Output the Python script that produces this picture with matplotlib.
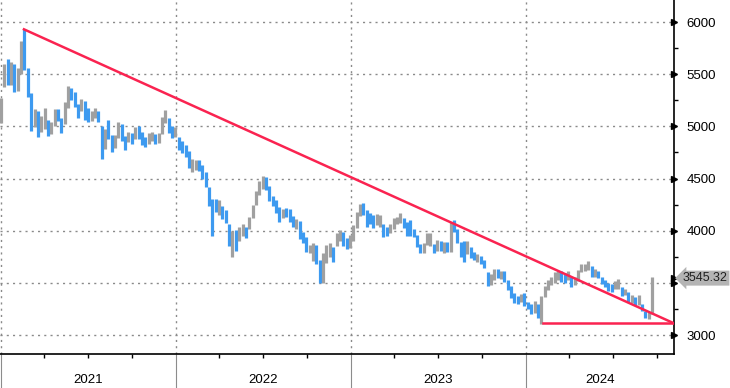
import matplotlib
matplotlib.use("Agg")
import matplotlib.pyplot as plt
import matplotlib.dates as mdates
import numpy as np
import pandas as pd

plt.rcParams['font.family'] = ['Liberation Sans', 'DejaVu Sans']

# weekly bars (week ending Friday)
weekly_low = [
    5030, 5380, 5400, 5400, 5330, 5340, 5500, 5540, 5280, 4960, 4990, 4900, 4945, 4970, 4910, 4930,
    5000, 5050, 4940, 5020, 5180, 5250, 5190, 5080, 5150, 5060, 5040, 5050, 5080, 5040, 4690, 4780,
    4880, 4750, 4790, 4890, 4860, 4770, 4850, 4830, 4880, 4880, 4820, 4800, 4830, 4860, 4830, 4840,
    4930, 5030, 4940, 4890, 4900,
    4770, 4740, 4710, 4600, 4560, 4580, 4570, 4500, 4420, 4240, 3950, 4180, 4150, 4110, 4070, 3850,
    3750, 3810, 3900, 3950, 3930, 4020, 4120, 4250, 4340, 4400, 4390, 4280, 4240, 4170, 4080, 4120,
    4130, 4080, 4040, 4020, 3920, 3880, 3800, 3790, 3710, 3680, 3500, 3500, 3690, 3750, 3700, 3850,
    3900, 3850, 3820, 3830,
    3900, 4030, 4140, 4150, 4040, 4060, 4030, 4050, 4040, 3940, 3950, 3980, 4020, 4060, 4070, 4030,
    3950, 3950, 3940, 3840, 3790, 3790, 3860, 3850, 3790, 3810, 3810, 3790, 3800, 3800, 3990, 3880,
    3750, 3700, 3780, 3740, 3720, 3700, 3680, 3640, 3470, 3480, 3530, 3550, 3540, 3510, 3430, 3350,
    3310, 3300, 3320,
    3280, 3250, 3200, 3210, 3160, 3108, 3360, 3430, 3480, 3500, 3530, 3510, 3500, 3530, 3460, 3480,
    3520, 3600, 3610, 3620, 3560, 3560, 3550, 3490, 3460, 3420, 3410, 3440, 3440, 3370, 3380, 3320,
    3310, 3290, 3290, 3230, 3160, 3150, 3200,
]
weekly_high = [
    5270, 5600, 5650, 5620, 5600, 5560, 5820, 5930, 5560, 5320, 5170, 5150, 5100, 5180, 5060, 5040,
    5170, 5170, 5080, 5230, 5390, 5370, 5330, 5210, 5260, 5240, 5180, 5150, 5180, 5150, 5000, 4970,
    5060, 4920, 4920, 5040, 5020, 4910, 4950, 4940, 4990, 5000, 4950, 4900, 4940, 4950, 4930, 4940,
    5090, 5160, 5080, 5000, 4990,
    4900, 4860, 4820, 4760, 4690, 4680, 4680, 4630, 4560, 4420, 4300, 4300, 4290, 4240, 4200, 4060,
    4000, 4010, 4040, 4060, 4040, 4130, 4250, 4380, 4480, 4520, 4510, 4430, 4330, 4290, 4230, 4210,
    4220, 4210, 4140, 4110, 4090, 3990, 3940, 3860, 3880, 3860, 3720, 3790, 3860, 3880, 3840, 3980,
    4010, 3990, 3930, 3960,
    4050, 4180, 4260, 4270, 4200, 4170, 4150, 4160, 4150, 4060, 4040, 4060, 4120, 4130, 4170, 4120,
    4080, 4100, 4020, 3960, 3870, 3880, 3980, 3980, 3870, 3910, 3900, 3890, 3890, 4080, 4100, 4020,
    3890, 3900, 3900, 3840, 3800, 3780, 3760, 3720, 3600, 3580, 3630, 3630, 3610, 3610, 3530, 3470,
    3400, 3370, 3390,
    3400, 3320, 3300, 3330, 3300, 3370, 3470, 3530, 3560, 3600, 3610, 3610, 3590, 3610, 3560, 3560,
    3620, 3680, 3680, 3710, 3660, 3630, 3610, 3560, 3530, 3500, 3490, 3520, 3540, 3460, 3440, 3410,
    3380, 3360, 3380, 3300, 3230, 3220, 3560,
]
weekly_close = [
    5210, 5550, 5460, 5570, 5350, 5500, 5800, 5600, 5340, 5090, 5100, 4990, 5050, 5150, 4960, 4990,
    5140, 5120, 5000, 5180, 5330, 5320, 5280, 5130, 5230, 5100, 5080, 5090, 5140, 5060, 4810, 4940,
    4920, 4790, 4840, 4990, 4940, 4850, 4880, 4870, 4940, 4920, 4900, 4860, 4880, 4900, 4870, 4880,
    5060, 5100, 4960, 4920, 4940,
    4800, 4780, 4760, 4620, 4620, 4630, 4610, 4550, 4460, 4270, 4250, 4200, 4240, 4180, 4120, 3900,
    3920, 3880, 4000, 4020, 3980, 4100, 4240, 4310, 4460, 4480, 4430, 4290, 4280, 4190, 4150, 4190,
    4170, 4120, 4080, 4090, 3940, 3900, 3810, 3820, 3860, 3720, 3550, 3770, 3790, 3800, 3770, 3950,
    3990, 3950, 3830, 3880,
    4010, 4160, 4200, 4180, 4140, 4100, 4060, 4070, 4120, 3970, 3960, 4010, 4050, 4080, 4100, 4050,
    4030, 4020, 3960, 3870, 3820, 3840, 3890, 3960, 3800, 3840, 3820, 3870, 3820, 4050, 4030, 3890,
    3780, 3740, 3820, 3760, 3740, 3750, 3690, 3660, 3500, 3560, 3590, 3570, 3580, 3540, 3470, 3380,
    3340, 3320, 3370,
    3300, 3280, 3230, 3250, 3180, 3360, 3450, 3490, 3540, 3550, 3590, 3560, 3540, 3570, 3480, 3540,
    3610, 3650, 3660, 3690, 3580, 3580, 3570, 3520, 3480, 3460, 3430, 3470, 3500, 3380, 3410, 3340,
    3340, 3320, 3330, 3250, 3170, 3200, 3545.32,
]
last_price = 3545.32

# trend lines (red)
trend_start = ['2021-02-18', '2024-11-05']
trend_vals = [5930, 3112]
floor_start = ['2024-02-05', '2024-11-05']
floor_vals = [3112, 3112]

year_labels = ['2021', '2022', '2023', '2024']
y_ticks = [3000, 3500, 4000, 4500, 5000, 5500, 6000]

weeks = pd.date_range('2021-01-01', periods=len(weekly_close), freq='7D')
low = np.array(weekly_low)
high = np.array(weekly_high)
close = np.array(weekly_close)
prev = np.concatenate([[close[0]], close[:-1]])
colors = np.where(close >= prev, '#a0a0a0', '#3d9af0')

fig = plt.figure(figsize=(7.3, 3.88), dpi=100)
ax = fig.add_axes([0, 34 / 388, 674 / 730, 354 / 388])

ax.vlines(weeks, low, high, colors=colors, linewidth=2.3, zorder=3)

ax.plot(pd.to_datetime(trend_start), trend_vals, color='#fa2350', lw=1.8, zorder=4)
ax.plot(pd.to_datetime(floor_start), floor_vals, color='#fa2350', lw=1.8, zorder=4)

xmin, xmax = pd.Timestamp('2020-12-30'), pd.Timestamp('2024-11-05')
ax.set_xlim(xmin, xmax)
ax.set_ylim(2818, 6211)

# y axis on the right
ax.yaxis.tick_right()
ax.set_yticks(y_ticks)
# the 3500 label sits under the last-price tag, as in the original
ax.set_yticklabels(['' if v == 3500 else str(v) for v in y_ticks])
ax.set_yticks(np.arange(3250, 6000, 500), minor=True)
ax.tick_params(axis='y', which='major', length=0, pad=9, labelsize=9.5)
ax.tick_params(axis='y', which='minor', length=3, width=1, color='black', direction='out')
ax.plot(np.ones(len(y_ticks)), y_ticks, '>', color='black', ms=5,
        transform=ax.get_yaxis_transform(), clip_on=False, zorder=5)

# x axis: year separators and quarter ticks
year_starts = pd.to_datetime([f'{y}-01-01' for y in year_labels])
ax.set_xticks(year_starts)
ax.xaxis.set_minor_locator(mdates.MonthLocator(bymonth=[4, 7, 10]))
ax.tick_params(axis='x', which='major', length=24.5, width=0.8, color='#8c8c8c',
               labelbottom=False)
ax.tick_params(axis='x', which='minor', length=3, width=1, color='black')
edges = list(year_starts) + [xmax]
for i, lab in enumerate(year_labels):
    mid = edges[i] + (edges[i + 1] - edges[i]) / 2
    ax.text(mid, -0.073, lab, transform=ax.get_xaxis_transform(),
            ha='center', va='center', fontsize=9.5)

ax.grid(True, which='major', color='#8a8a8a', linestyle=(0, (1.5, 3)), linewidth=1)

for s in ['top', 'left']:
    ax.spines[s].set_visible(False)
ax.spines['right'].set_linewidth(1.2)
ax.spines['bottom'].set_linewidth(1.2)

# last price tag
ax.plot([1], [last_price], '>', color='black', ms=5,
        transform=ax.get_yaxis_transform(), clip_on=False, zorder=5)
ax.annotate(f'{last_price:.2f}', xy=(1, last_price), xycoords=ax.get_yaxis_transform(),
            xytext=(6.5, 0), textcoords='offset points', va='center', ha='left',
            fontsize=9, color='#202020', zorder=6, annotation_clip=False,
            bbox=dict(boxstyle='larrow,pad=0.12', fc='#b4b4b4', ec='none'))

fig.savefig('out.png', dpi=100)
